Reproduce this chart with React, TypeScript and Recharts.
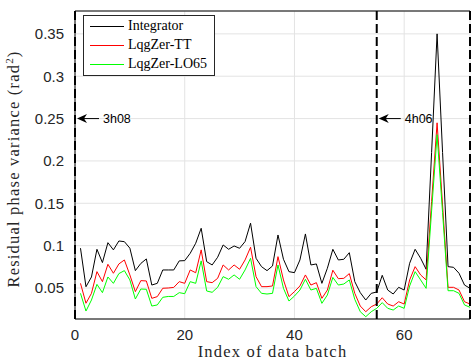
import React from 'react';
import {
  LineChart,
  Line,
  XAxis,
  YAxis,
  CartesianGrid,
  ReferenceLine,
  ReferenceDot,
  Legend,
} from 'recharts';

// residual phase variance per data batch (batch index starts at 1)
const integrator = [
  0.097, 0.0515, 0.063, 0.0957, 0.08, 0.1035, 0.095, 0.1055, 0.1047, 0.097,
  0.0705, 0.079, 0.0843, 0.0535, 0.0555, 0.0713, 0.0713, 0.0713, 0.082, 0.0823,
  0.091, 0.1028, 0.1205, 0.0811, 0.0772, 0.0863, 0.1008, 0.0957, 0.0996, 0.0969,
  0.1048, 0.1265, 0.0851, 0.0752, 0.0705, 0.076, 0.1126, 0.0839, 0.0693, 0.0681,
  0.0831, 0.1138, 0.0772, 0.0784, 0.0555, 0.0733, 0.0957, 0.0831, 0.0839, 0.0917,
  0.0575, 0.0445, 0.0358, 0.0437, 0.0453, 0.065, 0.0476, 0.0429, 0.0508, 0.0476,
  0.0792, 0.0957, 0.0851, 0.0721, 0.21, 0.35, 0.21, 0.0752, 0.0744, 0.0674,
  0.0535, 0.0496,
];

const lqgTT = [
  0.0555, 0.032, 0.0437, 0.0693, 0.0575, 0.078, 0.0674, 0.0784, 0.0831, 0.0654,
  0.0457, 0.0587, 0.0583, 0.0378, 0.0398, 0.0497, 0.05, 0.0507, 0.0575, 0.0555,
  0.0713, 0.068, 0.095, 0.0575, 0.0563, 0.0614, 0.0772, 0.0713, 0.0772, 0.0721,
  0.0831, 0.0981, 0.0634, 0.0516, 0.0516, 0.0524, 0.087, 0.0595, 0.0398, 0.0457,
  0.0524, 0.0654, 0.0535, 0.0563, 0.0378, 0.0476, 0.071, 0.061, 0.0614, 0.067,
  0.0437, 0.0287, 0.022, 0.0279, 0.0311, 0.0385, 0.0311, 0.0287, 0.0338, 0.0311,
  0.0595, 0.0752, 0.0654, 0.0595, 0.152, 0.245, 0.148, 0.0508, 0.0508, 0.0476,
  0.0338, 0.0311,
];

const lqgLO65 = [
  0.0437, 0.0228, 0.0358, 0.0543, 0.0445, 0.063, 0.0555, 0.067, 0.0705, 0.0595,
  0.037, 0.0488, 0.0485, 0.0287, 0.03, 0.039, 0.04, 0.04, 0.0445, 0.0433,
  0.0575, 0.0555, 0.082, 0.0465, 0.0449, 0.0508, 0.0634, 0.0603, 0.0654, 0.0603,
  0.0713, 0.0851, 0.0516, 0.0437, 0.0429, 0.0437, 0.0772, 0.0496, 0.0346, 0.0405,
  0.0476, 0.0603, 0.0476, 0.0496, 0.0319, 0.0417, 0.0625, 0.0535, 0.0547, 0.0595,
  0.0366, 0.022, 0.0161, 0.022, 0.026, 0.0327, 0.026, 0.024, 0.0287, 0.026,
  0.0524, 0.0693, 0.0595, 0.0496, 0.141, 0.231, 0.139, 0.0468, 0.0468, 0.0437,
  0.03, 0.0272,
];

const xTicks = [0, 20, 40, 60];
const yTicks = [0.05, 0.1, 0.15, 0.2, 0.25, 0.3, 0.35];

// session boundaries (dashed) and their labels
const markers = [
  { x: 0, label: '3h08' },
  { x: 55, label: '4h06' },
];
const X_MAX = 72;
const Y_MIN = 0.0134;
const Y_MAX = 0.377;
const MARK_Y = 0.25;

const series = [
  { key: 'integrator', name: 'Integrator', color: '#000000' },
  { key: 'tt', name: 'LqgZer-TT', color: '#ff0000' },
  { key: 'lo65', name: 'LqgZer-LO65', color: '#00ff00' },
];

const data = integrator.map((v, i) => ({
  idx: i + 1,
  integrator: v,
  tt: lqgTT[i],
  lo65: lqgLO65[i],
}));

const serif = '"Liberation Serif", "Times New Roman", serif';
const sans = '"Liberation Sans", Arial, sans-serif';

const renderArrow = (label: string) => (props: any) => {
  const { cx, cy } = props;
  const tip = cx + 2;
  return (
    <g>
      <line x1={tip + 6} y1={cy} x2={tip + 22} y2={cy} stroke="#000" strokeWidth={1} />
      <path
        d={`M${tip},${cy} L${tip + 10},${cy - 4.5} L${tip + 7},${cy} L${tip + 10},${cy + 4.5} Z`}
        fill="#000"
      />
      <text x={tip + 26} y={cy + 4.5} fontFamily={sans} fontSize={12.5} fill="#000">
        {label}
      </text>
    </g>
  );
};

const LegendBox = () => (
  <div
    style={{
      border: '1px solid #262626',
      background: '#fff',
      padding: '0px 7px 2px 6px',
      fontFamily: serif,
      fontSize: 14,
      color: '#000',
      lineHeight: '19px',
    }}
  >
    {series.map((s) => (
      <div key={s.key} style={{ display: 'flex', alignItems: 'center' }}>
        <svg width={38} height={19} style={{ display: 'block' }}>
          <line x1={0} y1={10.5} x2={34} y2={10.5} stroke={s.color} strokeWidth={1} />
        </svg>
        {s.name}
      </div>
    ))}
  </div>
);

const YLabel = (props: any) => {
  const { viewBox } = props;
  const cx = 19;
  const cy = viewBox.y + viewBox.height / 2 + 4;
  return (
    <text
      x={cx}
      y={cy}
      transform={`rotate(-90, ${cx}, ${cy})`}
      textAnchor="middle"
      fontFamily={serif}
      fontSize={16.5}
      letterSpacing={1.2}
      fill="#262626"
    >
      Residual phase variance (rad
      <tspan dy={-6} fontSize={11}>
        2
      </tspan>
      <tspan dy={6}>)</tspan>
    </text>
  );
};

const App: React.FC = () => {
  return (
    <div style={{ position: 'absolute', left: 0, top: 0, background: '#fff' }}>
      <LineChart
        width={471}
        height={361}
        data={data}
        margin={{ top: 11, right: 1, left: 0, bottom: 0 }}
      >
        <CartesianGrid stroke="#e3e3e3" strokeWidth={1} />
        <XAxis
          dataKey="idx"
          type="number"
          domain={[0, X_MAX]}
          ticks={xTicks}
          height={42}
          tickLine={false}
          tickSize={0}
          tickMargin={10}
          stroke="#000"
          tick={{ fill: '#262626', fontFamily: sans, fontSize: 15 }}
          label={{
            value: 'Index of data batch',
            position: 'insideBottom',
            offset: 4,
            fontFamily: serif,
            fontSize: 16.5,
            letterSpacing: 1.2,
            fill: '#262626',
          }}
        />
        <YAxis
          type="number"
          domain={[Y_MIN, Y_MAX]}
          ticks={yTicks}
          allowDataOverflow
          width={75}
          tickLine={false}
          tickSize={0}
          tickMargin={11}
          stroke="#000"
          tickFormatter={(v: number) => String(+v.toFixed(2))}
          tick={{ fill: '#262626', fontFamily: sans, fontSize: 15 }}
          label={<YLabel />}
        />
        <ReferenceLine y={Y_MAX} stroke="#000" strokeWidth={1} />
        {series.map((s) => (
          <Line
            key={s.key}
            type="linear"
            dataKey={s.key}
            name={s.name}
            stroke={s.color}
            strokeWidth={1}
            dot={false}
            isAnimationActive={false}
          />
        ))}
        {markers.map((m) => (
          <ReferenceLine
            key={`line-${m.x}`}
            x={m.x}
            stroke="#000"
            strokeWidth={2}
            strokeDasharray="9 4"
          />
        ))}
        <ReferenceLine x={X_MAX} stroke="#000" strokeWidth={2} strokeDasharray="9 4" />
        {markers.map((m) => (
          <ReferenceDot
            key={`mark-${m.x}`}
            x={m.x}
            y={MARK_Y}
            r={0}
            ifOverflow="visible"
            shape={renderArrow(m.label)}
          />
        ))}
        <Legend
          layout="vertical"
          align="center"
          verticalAlign="middle"
          wrapperStyle={{ left: 83, top: 15, width: 'auto' }}
          content={<LegendBox />}
        />
      </LineChart>
    </div>
  );
};

export default App;
